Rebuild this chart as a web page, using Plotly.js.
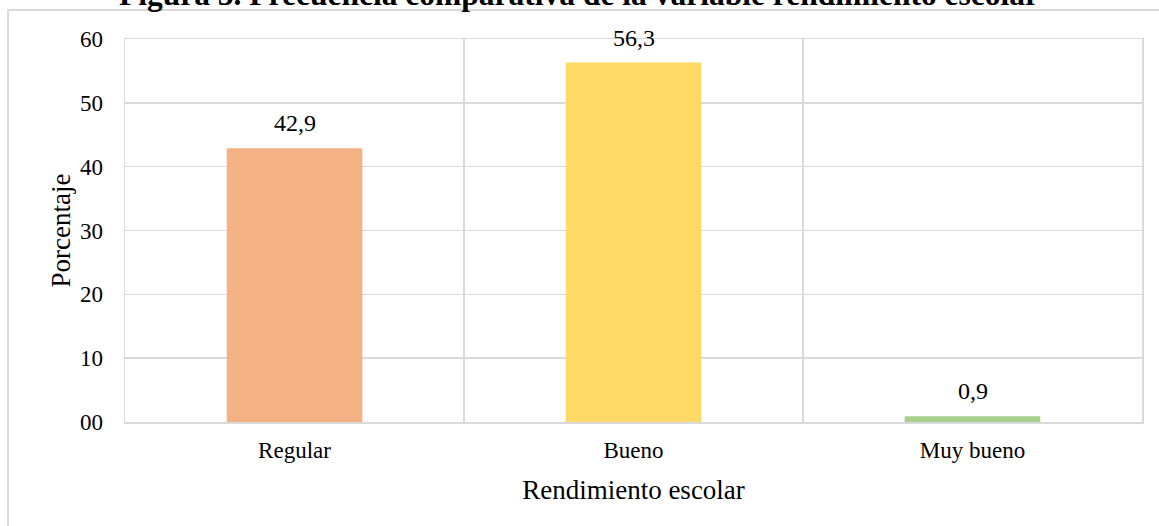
<!DOCTYPE html>
<html><head><meta charset="utf-8">
<script src="https://cdn.plot.ly/plotly-3.0.1.min.js"></script>
<style>html,body{margin:0;padding:0;background:#fff;}#chart{width:1159px;height:526px;}</style>
</head><body><div id="chart"></div>
<script>
const categories = ['Regular', 'Bueno', 'Muy bueno'];
const values = [42.9, 56.3, 0.9];
const labels = ['42,9', '56,3', '0,9'];
const barColors = ['#F4B183', '#FFD966', '#A9D18E'];
const yTickVals = [0, 10, 20, 30, 40, 50, 60];
const yTickText = ['00', '10', '20', '30', '40', '50', '60'];
const chartTitle = 'Figura 3. Frecuencia comparativa de la variable rendimiento escolar';

const font = 'Liberation Serif, Times New Roman, serif';
const data = [{
  type: 'bar', x: categories, y: values,
  marker: {color: barColors}, width: 0.4, hoverinfo: 'none'
}];
const labelAnnotations = categories.map((c, i) => ({
  x: c, y: values[i], xref: 'x', yref: 'y', text: labels[i],
  showarrow: false, yanchor: 'bottom', yshift: 10,
  font: {family: font, size: 24, color: '#000'}
}));
const layout = {
  width: 1159, height: 526,
  margin: {l: 125, r: 17, t: 39, b: 104},
  paper_bgcolor: '#fff', plot_bgcolor: '#fff',
  showlegend: false,
  font: {family: font, color: '#000'},
  xaxis: {
    type: 'category', tickson: 'boundaries', showgrid: true, gridcolor: '#d9d9d9', gridwidth: 1.5,
    showline: true, linecolor: '#d9d9d9', linewidth: 1.5, mirror: true, ticks: '',
    tickfont: {family: font, size: 23}, ticklabelstandoff: 7,
    title: {text: 'Rendimiento escolar', font: {family: font, size: 27}, standoff: 18}
  },
  yaxis: {
    range: [0, 60], tickvals: yTickVals, ticktext: yTickText, showgrid: true,
    gridcolor: '#d9d9d9', gridwidth: 1.5, zeroline: false,
    showline: true, linecolor: '#d9d9d9', linewidth: 1.5, mirror: true, ticks: '',
    tickfont: {family: font, size: 23}, ticklabelstandoff: 16,
    title: {text: 'Porcentaje', font: {family: font, size: 27}, standoff: 1}
  },
  shapes: [{
    type: 'rect', xref: 'paper', yref: 'paper',
    x0: -0.115, x1: 1.05, y0: -0.4, y1: 1.0757,
    line: {color: '#d9d9d9', width: 2}, fillcolor: 'rgba(0,0,0,0)', layer: 'below'
  }],
  annotations: [{
    text: '<b>' + chartTitle + '</b>', xref: 'paper', yref: 'paper',
    x: 0.446, y: 1.065, yanchor: 'bottom', xanchor: 'center', showarrow: false,
    font: {family: font, size: 31.5, color: '#000'}
  }].concat(labelAnnotations)
};
Plotly.newPlot('chart', data, layout, {displayModeBar: false, staticPlot: true});
</script></body></html>
